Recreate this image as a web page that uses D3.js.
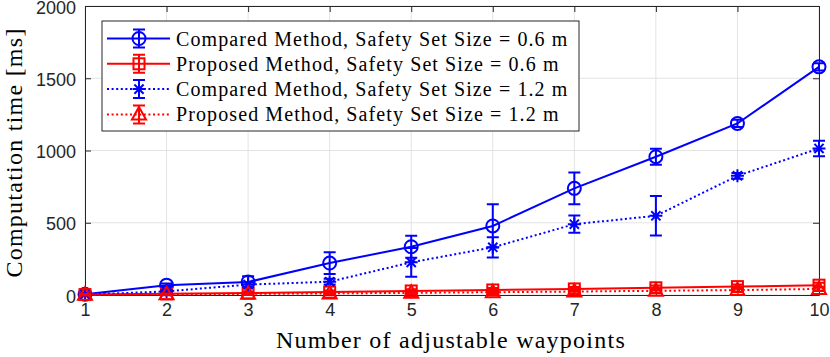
<!DOCTYPE html>
<html>
<head>
<meta charset="utf-8">
<script src="https://cdn.jsdelivr.net/npm/d3@7"></script>
<style>
  body { margin: 0; background: #fff; }
  .tick text { font-family: "Liberation Sans", Arial, sans-serif; font-size: 18px; fill: #262626; }
  .lbl { font-family: "Liberation Serif", "DejaVu Serif", serif; font-size: 20px; letter-spacing: 1.1px; fill: #000; }
  .title { font-family: "Liberation Serif", "DejaVu Serif", serif; font-size: 24px; letter-spacing: 1.25px; fill: #000; }
</style>
</head>
<body>
<div class="chart"></div>
<script>
// data
const waypoints = [1, 2, 3, 4, 5, 6, 7, 8, 9, 10];
const compared06 = [5, 68, 90, 221, 334, 478, 738, 957, 1187, 1579];
const compared06Err = [8, 12, 40, 75, 76, 150, 110, 55, 25, 25];
const proposed06 = [3, 8, 14, 20, 28, 35, 42, 50, 58, 68];
const proposed06Err = [6, 8, 10, 12, 12, 14, 14, 15, 15, 16];
const compared12 = [3, 25, 72, 92, 226, 330, 490, 548, 825, 1014];
const compared12Err = [5, 10, 15, 20, 100, 70, 60, 137, 20, 53];
const proposed12 = [2, 5, 8, 11, 15, 19, 24, 29, 34, 42];
const proposed12Err = [5, 6, 8, 10, 10, 12, 12, 12, 14, 14];
const yTicks = [0, 500, 1000, 1500, 2000];
const legendLabels = [
  'Compared Method, Safety Set Size = 0.6 m',
  'Proposed Method, Safety Set Size = 0.6 m',
  'Compared Method, Safety Set Size = 1.2 m',
  'Proposed Method, Safety Set Size = 1.2 m'
];

const series = [
  {vals: compared06, err: compared06Err, color: '#0000ff', dash: null, marker: 'circle'},
  {vals: proposed06, err: proposed06Err, color: '#ff0000', dash: null, marker: 'square'},
  {vals: compared12, err: compared12Err, color: '#0000ff', dash: '2,2.6', marker: 'star'},
  {vals: proposed12, err: proposed12Err, color: '#ff0000', dash: '2,2.6', marker: 'triangle'}
];

const margin = {top: 6, left: 85, bottom: 62, right: 11};
const W = 830, H = 357;
const width = W - margin.left - margin.right;
const height = H - margin.top - margin.bottom;

const svg = d3.select('.chart')
  .append('svg')
  .attr('width', W)
  .attr('height', H)
  .append('g')
  .attr('transform', 'translate(' + margin.left + ',' + margin.top + ')');

const xScale = d3.scaleLinear().domain([1, 10]).range([0, width]);
const yScale = d3.scaleLinear().domain([0, 2000]).range([height, 0]);

// grid
svg.append('g').selectAll('line').data(waypoints).enter().append('line')
  .attr('x1', d => xScale(d)).attr('x2', d => xScale(d))
  .attr('y1', 0).attr('y2', height)
  .attr('stroke', '#e3e3e3').attr('stroke-width', 1);
svg.append('g').selectAll('line').data(yTicks).enter().append('line')
  .attr('x1', 0).attr('x2', width)
  .attr('y1', d => yScale(d)).attr('y2', d => yScale(d))
  .attr('stroke', '#e3e3e3').attr('stroke-width', 1);

// axes (ticks point inward, box on)
const xAxis = d3.axisBottom(xScale).tickValues(waypoints).tickSizeInner(-6).tickSizeOuter(0).tickPadding(11);
const yAxis = d3.axisLeft(yScale).tickValues(yTicks).tickFormat(d3.format('d')).tickSizeInner(-6).tickSizeOuter(0).tickPadding(9);

svg.append('g').attr('class', 'x-axis')
  .attr('transform', 'translate(0,' + height + ')')
  .call(xAxis);
svg.append('g').attr('class', 'y-axis').call(yAxis);
svg.append('g')
  .call(d3.axisTop(xScale).tickValues(waypoints).tickSizeInner(-6).tickSizeOuter(0).tickFormat(''));
svg.append('g').attr('transform', 'translate(' + width + ',0)')
  .call(d3.axisRight(yScale).tickValues(yTicks).tickSizeInner(-6).tickSizeOuter(0).tickFormat(''));
svg.selectAll('.domain, .tick line').attr('stroke', '#262626').attr('stroke-width', 1);
svg.selectAll('.x-axis .tick text').attr('dy', '0.55em');
svg.selectAll('.y-axis .tick text').attr('dy', '0.4em');

// marker drawing
function drawMarker(g, type, x, y, color) {
  if (type === 'circle') {
    g.append('circle').attr('cx', x).attr('cy', y).attr('r', 6.5)
      .attr('fill', 'none').attr('stroke', color).attr('stroke-width', 2);
  } else if (type === 'square') {
    g.append('rect').attr('x', x - 5.5).attr('y', y - 5.5).attr('width', 11).attr('height', 11)
      .attr('fill', 'none').attr('stroke', color).attr('stroke-width', 2);
  } else if (type === 'triangle') {
    g.append('path').attr('d', 'M' + x + ',' + (y - 7.5) + 'L' + (x + 7) + ',' + (y + 5) + 'L' + (x - 7) + ',' + (y + 5) + 'Z')
      .attr('fill', 'none').attr('stroke', color).attr('stroke-width', 2);
  } else {
    const r = 6.5, q = 4.6;
    g.append('path')
      .attr('d', 'M' + (x - r) + ',' + y + 'H' + (x + r) + 'M' + x + ',' + (y - r) + 'V' + (y + r) +
        'M' + (x - q) + ',' + (y - q) + 'L' + (x + q) + ',' + (y + q) +
        'M' + (x - q) + ',' + (y + q) + 'L' + (x + q) + ',' + (y - q))
      .attr('stroke', color).attr('stroke-width', 2);
  }
}

const line = d3.line().x((d, i) => xScale(waypoints[i])).y(d => yScale(d));

series.forEach(s => {
  const g = svg.append('g');
  g.append('path').datum(s.vals)
    .attr('d', line)
    .attr('fill', 'none')
    .attr('stroke', s.color)
    .attr('stroke-width', 2)
    .attr('stroke-dasharray', s.dash);
  s.vals.forEach((v, i) => {
    const x = xScale(waypoints[i]);
    const y0 = yScale(v - s.err[i]), y1 = yScale(v + s.err[i]);
    g.append('path')
      .attr('d', 'M' + x + ',' + y0 + 'V' + y1 + 'M' + (x - 6) + ',' + y0 + 'H' + (x + 6) + 'M' + (x - 6) + ',' + y1 + 'H' + (x + 6))
      .attr('stroke', s.color).attr('stroke-width', 2).attr('fill', 'none');
    drawMarker(g, s.marker, x, yScale(v), s.color);
  });
});

// axis titles
svg.append('text').attr('class', 'title')
  .attr('x', width / 2 - 1).attr('y', height + 53)
  .attr('text-anchor', 'middle')
  .text('Number of adjustable waypoints');
svg.append('text').attr('class', 'title')
  .attr('transform', 'translate(' + (-63) + ',' + (height / 2 + 2) + ') rotate(-90)')
  .attr('text-anchor', 'middle')
  .text('Computation time [ms]');

// legend
const legend = svg.append('g').attr('transform', 'translate(' + (102 - margin.left) + ',' + (21 - margin.top) + ')');
legend.append('rect')
  .attr('width', 477).attr('height', 110)
  .attr('fill', '#fff').attr('stroke', '#262626').attr('stroke-width', 1);
series.forEach((s, i) => {
  const cy = 17.5 + i * 25.3;
  legend.append('line')
    .attr('x1', 5).attr('x2', 68).attr('y1', cy).attr('y2', cy)
    .attr('stroke', s.color).attr('stroke-width', 2).attr('stroke-dasharray', s.dash);
  legend.append('path')
    .attr('d', 'M37,' + (cy - 9) + 'V' + (cy + 9) + 'M31,' + (cy - 9) + 'H43M31,' + (cy + 9) + 'H43')
    .attr('stroke', s.color).attr('stroke-width', 2);
  drawMarker(legend, s.marker, 37, cy, s.color);
  legend.append('text').attr('class', 'lbl')
    .attr('x', 74).attr('y', cy + 7)
    .text(legendLabels[i]);
});
</script>
</body>
</html>
